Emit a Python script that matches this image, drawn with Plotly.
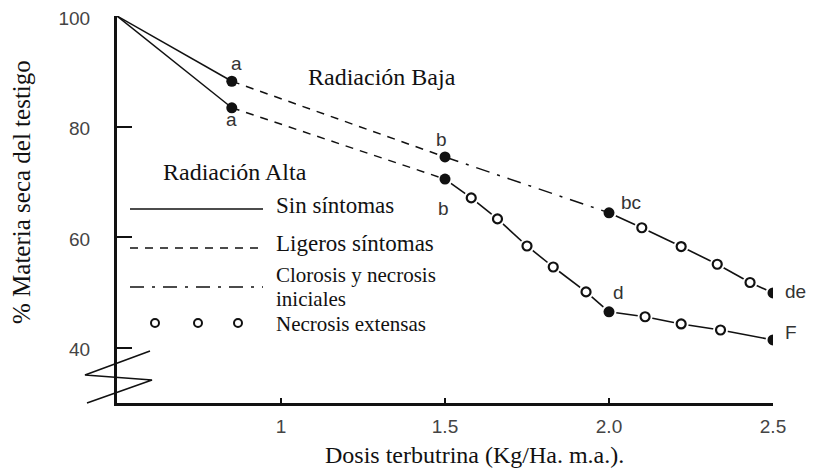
import plotly.graph_objects as go

# ---------------- data ----------------
# Radiación Baja (upper curve)
dose_baja = [0.5, 0.85, 1.5, 2.0, 2.10, 2.22, 2.33, 2.43, 2.5]
ms_baja = [100, 88.2, 74.5, 64.4, 61.7, 58.3, 55.1, 51.8, 49.9]
# symptom class of the segment that ends at each point (first point has none)
sym_baja = [None, "sin", "ligeros", "clorosis", "necrosis", "necrosis", "necrosis", "necrosis", "necrosis"]
mean_baja = [False, True, True, True, False, False, False, False, True]
letters_baja = ["", "a", "b", "bc", "", "", "", "", "de"]

# Radiación Alta (lower curve)
dose_alta = [0.5, 0.85, 1.5, 1.58, 1.66, 1.75, 1.83, 1.93, 2.0, 2.11, 2.22, 2.34, 2.5]
ms_alta = [100, 83.4, 70.5, 67.1, 63.3, 58.4, 54.6, 50.1, 46.5, 45.6, 44.3, 43.2, 41.4]
sym_alta = [None, "sin", "ligeros", "necrosis", "necrosis", "necrosis", "necrosis", "necrosis",
            "necrosis", "necrosis", "necrosis", "necrosis", "necrosis"]
mean_alta = [False, True, True, False, False, False, False, False, True, False, False, False, True]
letters_alta = ["", "a", "b", "", "", "", "", "", "d", "", "", "", "F"]

# letter offsets (pixels) relative to the point
off_baja = {1: (5, 18), 2: (-4, 17), 3: (22, 10), 8: (22, 1)}
off_alta = {1: (0, -12), 2: (-2, -29), 8: (9, 19), 12: (18, 7)}

x_ticks = [1, 1.5, 2.0, 2.5]
x_ticktext = ["1", "1.5", "2.0", "2.5"]
y_ticks = [40, 60, 80, 100]

legend_labels = ["Sin síntomas", "Ligeros síntomas", "Clorosis y necrosis", "Necrosis extensas"]

INK = "#111111"
SERIF = "Liberation Serif"
SANS = "Liberation Sans"

W, H = 815, 475
L, T = 117, 16
R = W - 773
B = H - 403
PW, PH = W - L - R, H - T - B


def px(xp):
    return (xp - L) / PW


def py(yp):
    return (H - B - yp) / PH


styles = {
    "sin": dict(dash="solid"),
    "ligeros": dict(dash="8px,7px"),
    "clorosis": dict(dash="14px,8px,3px,8px"),
}

fig = go.Figure()


def segments(dose, ms, sym, kind):
    xs, ys = [], []
    for i in range(1, len(dose)):
        if sym[i] == kind:
            xs += [dose[i - 1], dose[i], None]
            ys += [ms[i - 1], ms[i], None]
    return xs, ys


series = [(dose_baja, ms_baja, sym_baja, mean_baja), (dose_alta, ms_alta, sym_alta, mean_alta)]

# necrosis lines first, then white gaps around every necrosis vertex
for dose, ms, sym, mean in series:
    xs, ys = segments(dose, ms, sym, "necrosis")
    fig.add_trace(go.Scatter(x=xs, y=ys, mode="lines", line=dict(color=INK, width=1.6),
                             hoverinfo="skip", showlegend=False))
for dose, ms, sym, mean in series:
    idx = [i for i in range(len(dose))
           if sym[i] == "necrosis" or (i + 1 < len(sym) and sym[i + 1] == "necrosis")]
    fig.add_trace(go.Scatter(x=[dose[i] for i in idx], y=[ms[i] for i in idx], mode="markers",
                             marker=dict(size=15, color="white", line=dict(width=0)),
                             hoverinfo="skip", showlegend=False))

# other symptom lines
for dose, ms, sym, mean in series:
    for kind, st in styles.items():
        xs, ys = segments(dose, ms, sym, kind)
        if xs:
            fig.add_trace(go.Scatter(x=xs, y=ys, mode="lines",
                                     line=dict(color=INK, width=1.5, dash=st["dash"]),
                                     hoverinfo="skip", showlegend=False))

# open circles and filled mean points
for dose, ms, sym, mean in series:
    idx = [i for i in range(len(dose)) if sym[i] == "necrosis" and not mean[i]]
    fig.add_trace(go.Scatter(x=[dose[i] for i in idx], y=[ms[i] for i in idx], mode="markers",
                             marker=dict(size=9, color="white", line=dict(color=INK, width=2.2)),
                             showlegend=False))
    idx = [i for i in range(len(dose)) if mean[i]]
    fig.add_trace(go.Scatter(x=[dose[i] for i in idx], y=[ms[i] for i in idx], mode="markers",
                             marker=dict(size=11, color=INK, line=dict(width=0)),
                             showlegend=False))

annotations = []
for (dose, ms, sym, mean), letters, offs in zip(series, [letters_baja, letters_alta], [off_baja, off_alta]):
    for i, t in enumerate(letters):
        if t:
            dx, dy = offs[i]
            annotations.append(dict(x=dose[i], y=ms[i], xref="x", yref="y", text=t, showarrow=False,
                                    xshift=dx, yshift=dy, font=dict(family=SANS, size=19, color="#333")))


def txt(xp, yp, text, size=24, xanchor="left", angle=0, family=SERIF):
    annotations.append(dict(x=px(xp), y=py(yp), xref="paper", yref="paper", text=text,
                            showarrow=False, xanchor=xanchor, yanchor="middle", textangle=angle,
                            font=dict(family=family, size=size, color=INK)))


txt(306, 77, "Radiación Baja")
txt(161, 172, "Radiación Alta")
txt(274, 206, legend_labels[0], size=23)
txt(274, 244, legend_labels[1], size=23)
txt(274, 275, legend_labels[2], size=21)
txt(274, 299, "iniciales", size=21)
txt(274, 323.5, legend_labels[3], size=21)
txt(474, 455, "Dosis terbutrina (Kg/Ha. m.a.).", xanchor="center")
txt(22, 192, "% Materia seca del testigo", xanchor="center", angle=-90, size=25)

shapes = []
# legend keys
shapes.append(dict(type="line", xref="paper", yref="paper", x0=px(130), x1=px(263), y0=py(209), y1=py(209),
                   line=dict(color=INK, width=1.5)))
shapes.append(dict(type="line", xref="paper", yref="paper", x0=px(130), x1=px(263), y0=py(248), y1=py(248),
                   line=dict(color=INK, width=1.5, dash="8px,7px")))
shapes.append(dict(type="line", xref="paper", yref="paper", x0=px(130), x1=px(263), y0=py(287), y1=py(287),
                   line=dict(color=INK, width=1.5, dash="14px,8px,3px,8px")))
for cx in (155, 198, 238):
    shapes.append(dict(type="circle", xref="paper", yref="paper", x0=px(cx - 4), x1=px(cx + 4),
                       y0=py(323 + 4), y1=py(323 - 4), line=dict(color=INK, width=2), fillcolor="white"))
# axis break zigzag
zz = [(150, 351), (85, 375), (152, 380), (87, 403)]
path = "M " + " L ".join(f"{px(a)},{py(b)}" for a, b in zz)
shapes.append(dict(type="path", xref="paper", yref="paper", path=path, line=dict(color=INK, width=1.6)))

fig.update_layout(
    width=W, height=H,
    margin=dict(l=L, r=R, t=T, b=B, pad=0),
    paper_bgcolor="white", plot_bgcolor="white",
    showlegend=False,
    annotations=annotations,
    shapes=shapes,
    xaxis=dict(range=[0.5, 2.5], tickvals=x_ticks, ticktext=x_ticktext, ticks="inside", ticklen=5,
               tickwidth=1.5, tickcolor=INK, showgrid=False, zeroline=False, showline=True,
               linewidth=3, linecolor=INK, tickfont=dict(family=SANS, size=19, color="#444"),
               ticklabelstandoff=4, automargin=False, ticklabeloverflow="allow"),
    yaxis=dict(range=[30, 100], tickvals=y_ticks, ticks="inside", ticklen=15, tickwidth=1.5,
               tickcolor=INK, showgrid=False, zeroline=False, showline=True, linewidth=3,
               linecolor=INK, tickfont=dict(family=SANS, size=19, color="#444"),
               ticklabelstandoff=20, ticklabelshift=2, automargin=False, ticklabeloverflow="allow"),
)

fig.write_html("out.html", config={"displayModeBar": False},
               post_script="document.body.style.margin='0px';")
